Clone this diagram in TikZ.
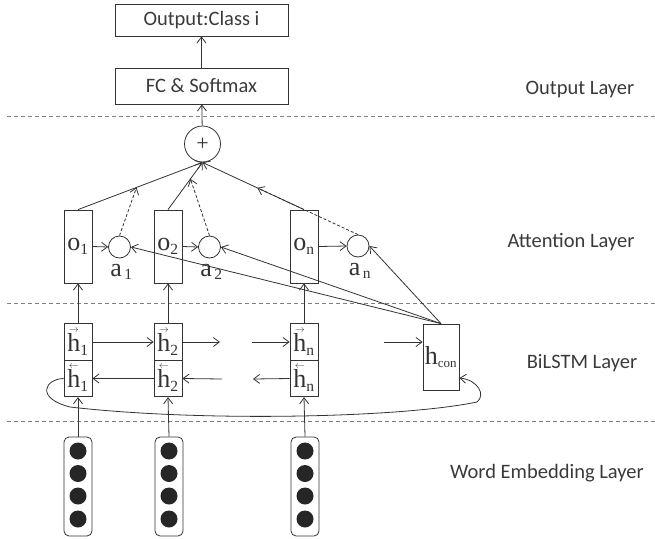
\documentclass[tikz,border=0pt]{standalone}
\usepackage{amsmath}
\usepackage{fontspec}
\setmainfont{Liberation Serif}
\newfontfamily\layerfont{Carlito}
\usetikzlibrary{positioning,calc,arrows.meta}
\DeclareMathSizes{26}{26}{15.5}{13}
\definecolor{ink}{HTML}{333333}
\definecolor{txt}{HTML}{3A3A3A}
% h with a small arrow on top
\newcommand{\arrowh}[1]{\mathord{\vbox{\offinterlineskip\halign{\hfil##\hfil\cr
  \fontsize{10}{10}\selectfont$#1$\cr\noalign{\kern1pt}h\cr}}}}
\newcommand{\fwdh}{\arrowh{\rightarrow}}
\newcommand{\bwdh}{\arrowh{\leftarrow}}

\begin{document}
\begin{tikzpicture}[x=1pt, y=-1pt, color=ink, line width=0.8pt,
  >={Straight Barb[length=6pt,width=9pt]},
  layerbox/.style={draw, minimum width=173pt, inner sep=0pt, text=txt, font=\layerfont\fontsize{20.5}{24}\selectfont},
  layer/.style={text=txt, font=\layerfont\fontsize{20.5}{24}\selectfont},
  obox/.style={draw, minimum width=28pt, minimum height=73pt, inner sep=0pt, font=\fontsize{26}{30}\selectfont},
  hbox/.style={draw, minimum width=28pt, minimum height=36.5pt, inner sep=0pt, font=\fontsize{26}{30}\selectfont},
  attn/.style={circle, draw, minimum size=22pt, inner sep=0pt},
  alabel/.style={inner sep=0pt, font=\fontsize{26}{30}\selectfont},
  embbox/.style={draw, rounded corners=5pt, minimum width=28pt, minimum height=99pt, inner sep=0pt},
  embdot/.style={circle, fill=black!85, minimum size=17pt, inner sep=0pt},
  layersep/.style={draw=gray, dash pattern=on 4pt off 3pt},
  attnarrow/.style={->, dash pattern=on 3pt off 2pt}]
\useasboundingbox (0,0) rectangle (655,538);

% layer borders
\draw[layersep] (7,116) -- (655,116);
\draw[layersep] (7,303) -- (655,303);
\draw[layersep] (7,421) -- (655,421);

\node (lout) [layer] at (580,89) {Output Layer};
\node (latt) [layer] at (571,242) {Attention Layer};
\node (lbil) [layer] at (582,363) {BiLSTM Layer};
\node (lemb) [layer] at (547,473) {Word Embedding Layer};

% output
\node (out) [layerbox, minimum height=32pt] at (201.5,20) {Output:Class i};
\node (fc) [layerbox, minimum height=36pt] at (201.5,86) {FC \& Softmax};
\node (plus) [circle, draw, minimum size=36pt, inner sep=0pt, font=\fontsize{22}{22}\selectfont] at (202.5,144) {+};

% attention
\node (o1) [obox] at (78,246.5) {$\text{o}_{\text{1}}$};
\node (o2) [obox] at (168,246.5) {$\text{o}_{\text{2}}$};
\node (on) [obox] at (304,246.5) {$\text{o}_{\text{n}}$};
\node (a1) [attn] at (119.5,247) {};
\node (a2) [attn] at (209.5,247) {};
\node (an) [attn] at (358,246) {};
\node (la1) [alabel, below=5pt of a1, xshift=2pt] {$\text{a}_{\,\text{1}}$};
\node (la2) [alabel, below=5pt of a2, xshift=2pt] {$\text{a}_{\,\text{2}}$};
\node (lan) [alabel, below=5pt of an, xshift=2pt] {$\text{a}_{\,\text{n}}$};

% bilstm
\node (h1f) [hbox] at (78,342) {$\fwdh_{\text{1}}$};
\node (h1b) [hbox] at (78,378.5) {$\bwdh_{\text{1}}$};
\node (h2f) [hbox] at (168,342) {$\fwdh_{\text{2}}$};
\node (h2b) [hbox] at (168,378.5) {$\bwdh_{\text{2}}$};
\node (hnf) [hbox] at (304,342) {$\fwdh_{\text{n}}$};
\node (hnb) [hbox] at (304,378.5) {$\bwdh_{\text{n}}$};
\node (hcon) [hbox, minimum width=36pt, minimum height=66pt] at (441,357) {$\text{h}_{\scriptscriptstyle\text{con}}$};

% embeddings
\node (e1) [embbox] at (78,486.5) {};
\node (e2) [embbox] at (169,486.5) {};
\node (en) [embbox] at (305,486.5) {};
\node (e1d1) [embdot] at (78,451) {};
\node (e1d2) [embdot] at (78,473.5) {};
\node (e1d3) [embdot] at (78,496) {};
\node (e1d4) [embdot] at (78,519) {};
\node (e2d1) [embdot] at (169,451) {};
\node (e2d2) [embdot] at (169,473.5) {};
\node (e2d3) [embdot] at (169,496) {};
\node (e2d4) [embdot] at (169,519) {};
\node (end1) [embdot] at (305,451) {};
\node (end2) [embdot] at (305,473.5) {};
\node (end3) [embdot] at (305,496) {};
\node (end4) [embdot] at (305,519) {};

\coordinate (f2) at (220,342);
\coordinate (fn) at (252,342);
\coordinate (fcon) at (384,342);
\coordinate (bn) at (253,379);
\coordinate (b2) at (222,379);
\coordinate (hconin) at ($(hcon.east)+(0,21)$);

\draw[->] (fc) -- (out);
\draw[->] (plus) -- (fc);
\draw[->] (o1.north) -- (plus.south);
\draw[->] (o2.north) -- (plus.south);
\draw[->] (on.north) -- (plus.south);
\draw[attnarrow] (a1.north) -- ($(o1.north)!0.47!(plus.south)$);
\draw[attnarrow] (a2.north) -- ($(o2.north)!0.65!(plus.south)$);
\draw[attnarrow] (an.north) -- ($(on.north)!0.46!(plus.south)$);
\draw[->] (o1.east) -- (a1.west);
\draw[->] (o2.east) -- (a2.west);
\draw[->] (on.east) -- (an.west);
\draw[->] (hcon.north) -- (a1.east);
\draw[->] (hcon.north) -- (a2.east);
\draw[->] (hcon.north) -- (an.east);

\draw[->] (h1f.north) -- (o1.south);
\draw[->] (h2f.north) -- (o2.south);
\draw[->] (hnf.north) -- (on.south);
\draw[->] (h1f.east) -- (h2f.west);
\draw[->] (h2f.east) -- (f2);
\draw[->] (fn) -- (hnf.west);
\draw[->] (fcon) -- (hnf.east -| hcon.west);
\draw[->] (hnb.west) -- (bn);
\draw[->] (b2) -- (h2b.east);
\draw[->] (h2b.west) -- (h1b.east);
\draw[->] (h1b.west) .. controls (45,379) and (35,398) .. (70,407)
  .. controls (200,422) and (400,418) .. (477,402)
  .. controls (486,395) and (478,380) .. (hconin);

\draw[->] (e1.north) -- (h1b.south);
\draw[->] (e2.north) -- (h2b.south);
\draw[->] (en.north) -- (hnb.south);
\end{tikzpicture}
\end{document}
